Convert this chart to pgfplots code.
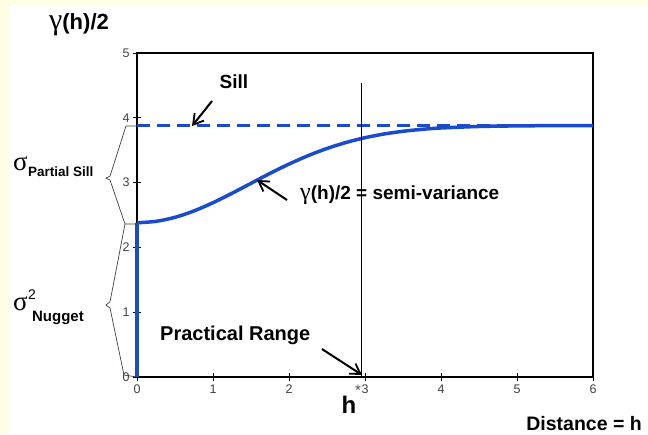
\documentclass[border=0pt]{standalone}
\usepackage{fontspec}
\setmainfont{Liberation Sans}
\newfontfamily\grk{Liberation Serif}
\usepackage{pgfplots}
\pgfplotsset{compat=1.18}
\usetikzlibrary{arrows.meta}
\definecolor{curveblue}{RGB}{25,75,205}
\definecolor{bgyellow}{RGB}{255,253,228}
\tikzset{callout/.style={black, line width=2pt, -{Straight Barb[length=10pt,width=12pt,line width=1.8pt]}},
  brace/.style={black!75, line width=0.7pt, line join=round}}
\begin{document}
\begin{tikzpicture}[x=1pt,y=1pt]
% page background: cream strip on the left and top, white elsewhere
\fill[bgyellow] (-137,-57) rectangle (511,377);
\fill[white] (-127,-57) rectangle (511,372);
\begin{axis}[
  at={(0,0)}, anchor=south west,
  x=76pt, y=64.8pt,
  xmin=0, xmax=6, ymin=0, ymax=5,
  xtick={0,...,6}, ytick={0,...,5},
  tick pos=left,
  axis line style={line width=1.6pt},
  tick align=center,
  major tick length=8pt,
  tick style={black, line width=0.8pt},
  ticklabel style={font=\fontsize{12.5}{14}\selectfont, text=black!75},
  /pgf/number format/assume math mode=true,
  clip=false,
]
% nugget jump at h = 0
\addplot[curveblue, line width=4pt, line cap=butt] coordinates {(0,0) (0,2.38)};
% sill
\addplot[curveblue, line width=3.5pt, dash pattern=on 13pt off 7pt] coordinates {(0,3.88) (6,3.88)};
% semi-variance curve
\addplot[curveblue, line width=3.5pt, smooth] coordinates {
  (0,2.38) (0.25,2.402) (0.5,2.464) (0.75,2.563) (1,2.690) (1.25,2.835)
  (1.5,2.989) (1.75,3.142) (2,3.286) (2.25,3.415) (2.5,3.527) (2.75,3.619)
  (3,3.693) (3.25,3.750) (3.5,3.792) (3.75,3.822) (4,3.843) (4.5,3.866)
  (5,3.875) (5.5,3.879) (6,3.880)
};

% practical range marker
\draw[black, line width=0.7pt] (axis cs:2.947,0) -- (axis cs:2.947,4.537);

% braces left of the y axis
\draw[brace] (axis cs:0,3.873) -- (axis cs:-0.145,3.873) -- (axis cs:-0.355,3.10)
  -- (axis cs:-0.41,3.07) -- (axis cs:-0.355,3.04) -- (axis cs:-0.158,2.36) -- (axis cs:0,2.36);
\draw[brace] (axis cs:-0.158,2.36) -- (axis cs:-0.355,1.16) -- (axis cs:-0.41,1.11)
  -- (axis cs:-0.355,1.065) -- (axis cs:-0.171,0.03) -- (axis cs:0,0);

% labels
\node[font=\bfseries\fontsize{22}{26}\selectfont] at (axis cs:-0.763,5.432) {{\grk\mdseries\fontsize{30}{30}\selectfont γ}(h)/2};
\node[font=\bfseries\fontsize{19}{22}\selectfont] at (axis cs:1.276,4.552) {Sill};
\draw[callout] (axis cs:0.987,4.259) -- (axis cs:0.724,3.873);
\node[anchor=west, font=\bfseries\fontsize{19}{22}\selectfont, inner sep=0pt] at (axis cs:2.145,2.809)
  {{\grk\mdseries\fontsize{24}{24}\selectfont γ}(h)/2 = semi-variance};
\draw[callout] (axis cs:1.974,2.731) -- (axis cs:1.579,3.040);
\node[anchor=west, font=\bfseries\fontsize{20}{24}\selectfont, inner sep=0pt] at (axis cs:0.303,0.648) {Practical Range};
\draw[callout] (axis cs:2.434,0.432) -- (axis cs:2.961,0.031);
\node[font=\bfseries\fontsize{24}{28}\selectfont] at (axis cs:2.789,-0.432) {h};
\node[font=\fontsize{15}{16}\selectfont, text=black!70] at (axis cs:2.908,-0.201) {*};
\node[anchor=base east, font=\bfseries\fontsize{19.5}{22}\selectfont, inner sep=0pt] at (axis cs:6.645,-0.82) {Distance = h};

\node[anchor=west, font=\grk\fontsize{27}{30}\selectfont, inner sep=0pt] at (axis cs:-1.632,3.287) {σ};
\node[anchor=west, font=\bfseries\fontsize{13.5}{16}\selectfont, inner sep=0pt] at (axis cs:-1.435,3.164) {Partial Sill};
\node[anchor=west, font=\grk\fontsize{27}{30}\selectfont, inner sep=0pt] at (axis cs:-1.632,1.127) {σ};
\node[anchor=west, font=\fontsize{14}{16}\selectfont, inner sep=0pt] at (axis cs:-1.435,1.27) {2};
\node[anchor=west, font=\bfseries\fontsize{15}{18}\selectfont, inner sep=0pt] at (axis cs:-1.382,0.910) {Nugget};
\end{axis}
\pgfresetboundingbox
\path[use as bounding box] (-137,-57) rectangle (511,377);
\end{tikzpicture}
\end{document}
